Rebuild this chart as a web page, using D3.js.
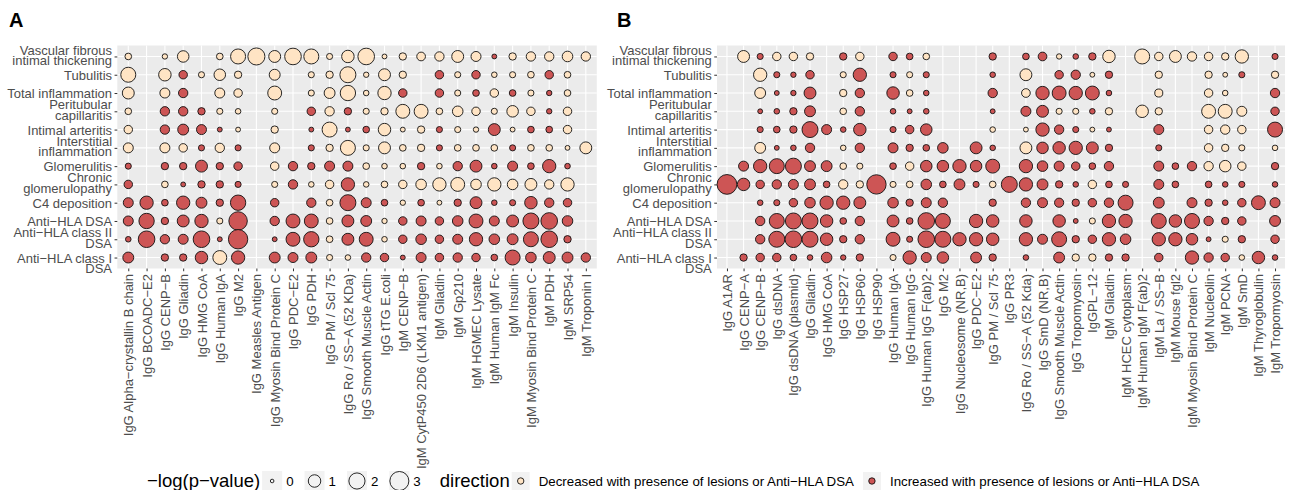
<!DOCTYPE html>
<html>
<head>
<meta charset="utf-8">
<script src="https://cdn.jsdelivr.net/npm/d3@7"></script>
<style>
  body { margin: 0; background: #fff; }
  svg text { font-family: "Liberation Sans", Arial, Helvetica, sans-serif; }
</style>
</head>
<body>
<svg id="chart" width="1290" height="490"></svg>
<script>
const _ = null;

const lesions = [
  "Vascular fibrous\nintimal thickening", "Tubulitis", "Total inflammation",
  "Peritubular\ncapillaritis", "Intimal arteritis", "Interstitial\ninflammation",
  "Glomerulitis", "Chronic\nglomerulopathy", "C4 deposition", "Anti−HLA DSA",
  "Anti−HLA class II\nDSA", "Anti−HLA class I\nDSA"
];

const antigensA = [
  "IgG Alpha−crystallin B chain", "IgG BCOADC−E2", "IgG CENP−B", "IgG Gliadin",
  "IgG HMG CoA", "IgG Human IgA", "IgG M2", "IgG Measles Antigen",
  "IgG Myosin Bind Protein C", "IgG PDC−E2", "IgG PDH", "IgG PM / Scl 75",
  "IgG Ro / SS−A (52 KDa)", "IgG Smooth Muscle Actin", "IgG tTG E.coli", "IgM CENP−B",
  "IgM CytP450 2D6 (LKM1 antigen)", "IgM Gliadin", "IgM Gp210", "IgM HGMEC Lysate",
  "IgM Human IgM Fc", "IgM Insulin", "IgM Myosin Bind Protein C", "IgM PDH",
  "IgM SRP54", "IgM Troponin I"
];

const antigensB = [
  "IgG A1AR", "IgG CENP−A", "IgG CENP−B", "IgG dsDNA", "IgG dsDNA (plasmid)",
  "IgG Gliadin", "IgG HMG CoA", "IgG HSP27", "IgG HSP60", "IgG HSP90",
  "IgG Human IgA", "IgG Human IgG", "IgG Human IgG F(ab)2", "IgG M2",
  "IgG Nucleosome (NR,B)", "IgG PDC−E2", "IgG PM / Scl 75", "IgG PR3",
  "IgG Ro / SS−A (52 Kda)", "IgG SmD (NR,B)", "IgG Smooth Muscle Actin",
  "IgG Tropomyosin", "IgGPL−12", "IgM Gliadin", "IgM HCEC cytoplasm",
  "IgM Human IgM F(ab)2", "IgM La / SS−B", "IgM Mouse fgl2",
  "IgM Myosin Bind Protein C", "IgM Nucleolin", "IgM PCNA", "IgM SmD",
  "IgM Thyroglobulin", "IgM Tropomyosin"
];

// -log(p-value) per lesion (row) and antigen (column)
// sign = direction: negative = decreased, positive = increased, _ = not shown
const logpA = [
  [-0.12, _, -0.04, -0.8, _, -0.12, -1.65, -2.3, -0.88, -2.15, -1.65, -0.08, -1.0, -2.15, -0.02, -0.18, -0.33, -0.42, -0.88, -0.52, 0.02, -0.18, -0.42, -0.42, -0.62, -0.42],
  [-1.65, _, -1.0, 0.3, -0.08, -0.8, -0.18, _, -0.68, _, -0.08, -0.18, -1.95, -0.04, -0.88, -0.18, _, 0.3, -0.08, 0.3, -0.05, -0.08, -0.12, 0.3, -0.12, _],
  [-0.88, _, -0.52, 0.42, _, -0.52, -0.3, _, -1.35, _, -0.08, -0.68, -1.75, -0.05, -1.2, 0.3, _, 0.3, -0.08, 0.12, -0.3, 0.12, -0.08, 0.04, -0.12, _],
  [-0.12, _, 0.42, 0.42, 0.18, -0.08, -0.05, _, -0.08, _, 0.3, -0.42, 0.18, -0.08, -0.18, -1.35, -1.35, -0.12, -0.62, -0.3, -0.08, -0.8, -0.3, 0.04, -0.3, _],
  [-0.3, _, 0.42, 0.68, 0.52, 0.02, -0.02, _, -0.18, _, 0.02, -1.65, 0.02, 0.12, -1.0, -0.02, -0.18, 0.08, -0.08, -0.04, 0.88, -0.02, 0.12, 0.12, -0.3, _],
  [-0.52, _, -0.52, -0.3, 0.08, -0.42, 0.08, _, -0.52, _, 0.08, -0.18, -1.65, -0.08, -0.88, -0.12, -0.18, 0.08, -0.12, -0.12, -0.12, 0.08, -0.12, -0.12, -0.02, -0.88],
  [0.08, _, 0.18, 0.18, 0.88, 0.18, 0.3, _, -0.3, 0.42, 0.18, 0.52, 0.52, -0.12, -0.05, -0.05, 0.18, -0.05, 0.42, 0.88, 0.05, 0.52, 0.12, 1.2, 0.05, _],
  [0.3, _, -0.12, 0.02, 0.18, 0.18, 0.08, _, -0.08, 0.42, -0.05, -0.3, 1.2, -0.05, -0.12, -0.3, -0.62, -1.2, -1.35, -0.62, -1.2, -0.62, -0.88, -0.42, -1.2, _],
  [0.52, 1.2, 0.12, 1.2, 0.68, 0.18, 1.75, _, 0.3, _, 0.42, -0.12, 1.95, 0.52, 0.12, -0.04, 0.12, -0.02, 0.18, 0.88, 0.05, 0.08, 1.0, 0.42, 0.3, _],
  [0.52, 1.75, 0.18, 0.88, 1.2, -0.08, 2.8, _, 0.42, 1.35, 1.35, -0.12, 0.88, 0.68, -0.04, 0.3, 0.52, 0.3, 0.62, 1.35, 0.52, 0.88, 1.95, 2.15, 0.62, _],
  [0.05, 2.15, 0.42, 0.52, 2.15, 0.02, 3.15, _, 0.02, 1.35, 1.75, -0.12, 0.88, 1.35, -0.05, 0.3, 0.62, 0.3, 0.52, 1.2, 0.62, 0.68, 1.65, 2.15, 0.18, _],
  [0.68, _, 0.18, 0.18, 1.0, -1.35, 1.2, _, 0.68, 0.52, 0.68, -0.08, -0.05, 0.42, 0.3, 0.02, 0.52, 0.3, 0.42, 0.3, 0.12, 1.65, 0.62, 0.88, 0.68, 0.42]
];

const logpB = [
  [_, -0.88, 0.08, -0.3, -0.3, -0.18, _, 0.18, -0.3, _, 0.3, 0.12, -0.12, _, _, _, 0.18, _, 0.12, 0.33, -0.04, 0.05, 0.18, -1.0, _, -1.65, -0.3, -0.88, -0.42, -0.3, -0.18, -1.2, _, 0.08],
  [_, _, -1.2, 0.08, 0.04, 0.3, _, -0.08, 1.2, _, 0.08, -0.08, 0.08, _, _, _, 0.05, _, -0.88, _, 0.3, 0.42, -0.02, 0.18, _, _, -0.18, _, _, -0.18, -0.02, 0.08, _, -0.18],
  [_, _, -0.68, 0.02, 0.04, 0.88, _, -0.18, 0.42, _, 1.0, -0.12, 0.05, _, _, _, 0.42, _, -0.33, 1.2, 1.35, 1.2, 1.35, 0.05, _, _, -0.25, _, _, -0.3, -0.05, _, _, 0.42],
  [_, _, 0.02, 0.05, 0.18, 0.68, _, -0.12, 0.42, _, 0.05, 0.02, 0.05, _, _, _, 0.02, _, 0.52, 0.88, -0.08, -0.08, 0.05, -0.18, _, -1.0, -0.18, _, _, -1.35, -1.35, -0.52, _, 0.3],
  [_, _, 0.08, 0.12, 0.18, 1.95, 0.52, 0.05, 1.0, _, 0.08, 0.3, 0.8, _, _, _, -0.05, _, -0.02, 1.2, 0.42, 0.08, -0.02, 0.02, _, _, 0.52, _, _, -0.3, -0.42, -0.3, _, 1.65],
  [_, _, -0.68, 0.02, 0.05, 0.42, _, -0.05, 0.42, _, 0.52, 0.18, 0.12, 0.62, _, 0.88, 0.05, _, -0.88, 0.8, 1.0, 1.2, 0.88, 0.18, _, _, 0.08, _, _, -0.3, -0.18, -0.08, _, -0.05],
  [_, 0.52, 1.2, 1.65, 1.95, 0.68, 0.68, -0.12, -0.08, _, 0.12, -0.3, 0.8, 0.8, 1.2, 0.8, 1.35, _, 1.2, 0.62, 0.52, 0.3, 0.12, 0.42, _, _, 0.52, 0.12, 0.42, -0.42, -0.8, -0.3, _, 0.18],
  [3.3, 1.0, 0.3, 0.42, 0.52, 0.68, 0.12, -0.42, -0.18, 3.15, -0.08, -0.12, 0.62, 0.12, 0.68, 0.08, -0.12, 1.95, 1.2, 0.68, 0.18, 0.05, -0.3, 0.12, 0.08, _, 0.52, 0.12, _, 0.12, 0.05, 0.08, _, 0.05],
  [_, _, 0.05, 0.08, 0.3, 0.62, 1.2, 1.2, 0.88, _, 0.62, 0.18, 0.52, 0.42, _, _, 0.18, _, 0.42, 0.52, 0.4, 0.18, 0.3, 0.42, 1.65, _, 0.68, _, 0.52, 0.18, 0.05, 0.3, 1.35, 0.52],
  [_, _, 0.42, 1.65, 1.95, 1.95, 1.0, 0.12, 0.42, _, 0.88, 0.12, 2.15, 1.65, _, 1.2, 1.0, _, 1.0, _, 1.0, 0.02, -0.08, 1.2, 1.2, _, 1.65, 1.0, 1.65, 0.42, 0.18, 0.3, _, 0.68],
  [_, _, 0.42, 1.95, 2.15, 1.95, 1.0, 0.18, 0.42, _, 1.35, 0.08, 2.15, 1.95, 1.2, 1.2, 1.0, _, 1.2, 0.52, 1.65, 0.18, 0.3, 1.2, 0.62, _, 1.2, 1.2, 0.8, 0.02, -0.08, 0.18, _, 0.3],
  [_, 0.18, 0.3, 0.3, 0.12, 0.05, 0.62, 0.04, 0.18, _, -0.08, 1.2, 0.52, 0.8, _, 0.68, 0.18, _, 0.05, _, 0.68, -0.18, -0.18, 0.18, 0.18, _, 0.3, _, 1.2, 0.42, 0.3, -0.05, 1.0, 0.05]
];

const sizeBreaks = [0, 1, 2, 3];
const directions = [
  "Decreased with presence of lesions or Anti−HLA DSA",
  "Increased with presence of lesions or Anti−HLA DSA"
];

const svg = d3.select("#chart");
const plotTop = 45.5, plotBottom = 268.5;

const rScale = d3.scaleSqrt().domain([0, 3.4]).range([1.8, 10]);
const fill = d3.scaleOrdinal().domain(directions).range(["#FFE4C4", "#CD5555"]);

const y = d3.scalePoint().domain(lesions).range([plotTop, plotBottom]).padding(0.6);

function panel(antigens, values, x0, x1, tag, tagX) {
  const x = d3.scalePoint().domain(antigens).range([x0, x1]).padding(0.6);
  const g = svg.append("g");

  g.append("rect")
    .attr("x", x0).attr("y", plotTop)
    .attr("width", x1 - x0).attr("height", plotBottom - plotTop)
    .attr("fill", "#EBEBEB");

  g.append("g").selectAll("line")
    .data(antigens)
    .join("line")
      .attr("x1", d => x(d)).attr("x2", d => x(d))
      .attr("y1", plotTop).attr("y2", plotBottom)
      .attr("stroke", "#fff").attr("stroke-width", 1.1);

  g.append("g").selectAll("line")
    .data(lesions)
    .join("line")
      .attr("x1", x0).attr("x2", x1)
      .attr("y1", d => y(d)).attr("y2", d => y(d))
      .attr("stroke", "#fff").attr("stroke-width", 1.1);

  const cells = [];
  values.forEach((row, i) => row.forEach((v, j) => {
    if (v === null) return;
    cells.push({
      lesion: lesions[i],
      antigen: antigens[j],
      logp: Math.abs(v),
      direction: v < 0 ? directions[0] : directions[1]
    });
  }));

  g.append("g").selectAll("circle")
    .data(cells)
    .join("circle")
      .attr("cx", d => x(d.antigen))
      .attr("cy", d => y(d.lesion))
      .attr("r", d => rScale(d.logp))
      .attr("fill", d => fill(d.direction))
      .attr("stroke", "#111")
      .attr("stroke-width", 0.9);

  // y axis with wrapped labels
  const ya = g.append("g")
      .attr("transform", `translate(${x0},0)`)
      .call(d3.axisLeft(y).tickSize(2.75).tickPadding(2.5));
  ya.select(".domain").remove();
  ya.selectAll(".tick line").attr("stroke", "#333");
  ya.selectAll(".tick text")
      .attr("fill", "#4D4D4D")
      .attr("font-size", 13)
      .attr("dy", null)
      .each(function(d, i) {
        const t = d3.select(this);
        const xx = t.attr("x");
        const lines = d.split("\n");
        t.text(null);
        // two-line labels sit a little above the tick, the last one below it
        const first = lines.length === 1 ? 0 : (i === lesions.length - 1 ? 0 : -7);
        lines.forEach((l, k) => {
          t.append("tspan").attr("x", xx).attr("y", first + k * 10.3)
            .attr("dy", "0.35em").text(l);
        });
      });

  // x axis, vertical labels
  const xa = g.append("g")
      .attr("transform", `translate(0,${plotBottom})`)
      .call(d3.axisBottom(x).tickSize(2.75).tickPadding(2.5));
  xa.select(".domain").remove();
  xa.selectAll(".tick line").attr("stroke", "#333");
  xa.selectAll(".tick text")
      .attr("fill", "#4D4D4D")
      .attr("font-size", 13)
      .attr("transform", "rotate(-90)")
      .attr("text-anchor", "end")
      .attr("x", -5.5)
      .attr("y", 0)
      .attr("dy", "0.35em");

  svg.append("text")
      .attr("x", tagX).attr("y", 27)
      .attr("font-size", 20).attr("font-weight", "bold")
      .text(tag);
}

panel(antigensA, logpA, 117.3, 596.8, "A", 9);
panel(antigensB, logpB, 717, 1285, "B", 617);

// legend
const leg = svg.append("g").attr("transform", "translate(0,481)");
let cx = 147;
const title1 = leg.append("text").attr("x", cx).attr("dy", "0.35em")
    .attr("font-size", 18.5).text("−log(p−value)");
cx += title1.node().getComputedTextLength() + 2;

sizeBreaks.forEach(s => {
  const w = 20;
  leg.append("rect").attr("x", cx).attr("y", -w / 2).attr("width", w).attr("height", w)
      .attr("fill", "#F2F2F2");
  leg.append("circle").attr("cx", cx + w / 2).attr("cy", 0).attr("r", rScale(s))
      .attr("fill", "none").attr("stroke", "#111").attr("stroke-width", 0.9);
  cx += w + 4;
  const t = leg.append("text").attr("x", cx).attr("dy", "0.35em").attr("font-size", 13.3).text(s);
  cx += t.node().getComputedTextLength() + 11;
});

cx += 8;
const title2 = leg.append("text").attr("x", cx).attr("dy", "0.35em")
    .attr("font-size", 18.5).text("direction");
cx += title2.node().getComputedTextLength() + 2;

directions.forEach(d => {
  const w = 18;
  leg.append("rect").attr("x", cx).attr("y", -w / 2).attr("width", w).attr("height", w)
      .attr("fill", "#F2F2F2");
  leg.append("circle").attr("cx", cx + w / 2).attr("cy", 0).attr("r", 3.2)
      .attr("fill", fill(d)).attr("stroke", "#111").attr("stroke-width", 0.9);
  cx += w + 9;
  const t = leg.append("text").attr("x", cx).attr("dy", "0.35em").attr("font-size", 13.3).text(d);
  cx += t.node().getComputedTextLength() + 9;
});
</script>
</body>
</html>
